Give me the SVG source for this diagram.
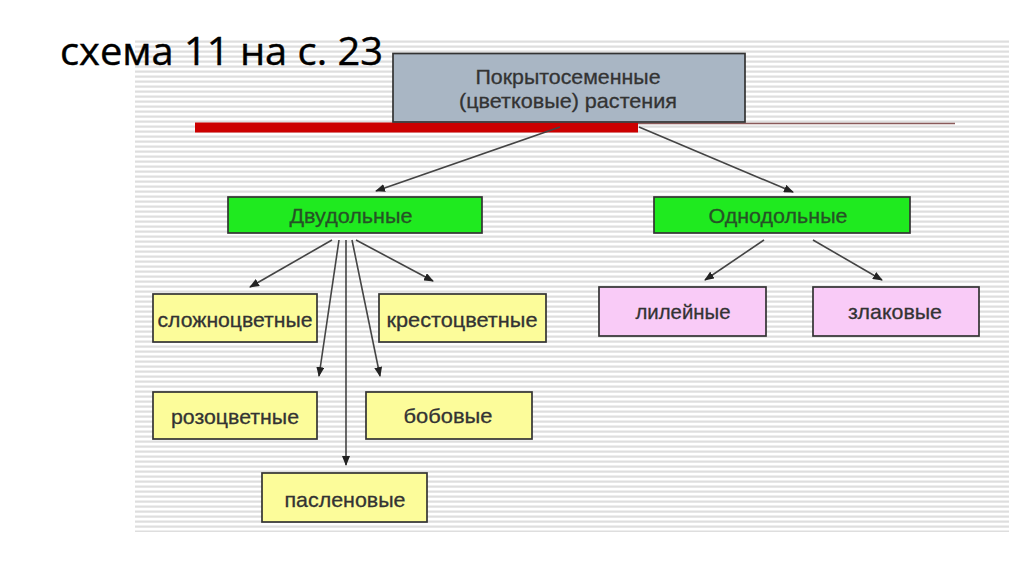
<svg xmlns="http://www.w3.org/2000/svg" width="1024" height="574" viewBox="0 0 1024 574">
<defs>
<pattern id="stripes" x="0" y="38" width="10" height="5" patternUnits="userSpaceOnUse">
<rect x="0" y="0" width="10" height="5" fill="#ffffff"/>
<rect x="0" y="2.5" width="10" height="2.2" fill="#dedede"/>
</pattern>
<marker id="arr" markerWidth="10" markerHeight="8" refX="9" refY="4" orient="auto" markerUnits="userSpaceOnUse">
<path d="M0,0 L10,4 L0,8 Z" fill="#222"/>
</marker>
</defs>
<style>
.box{stroke:#333;stroke-width:1.7}
.gray{fill:#a9b6c4}
.green{fill:#1fea1f}
.yellow{fill:#fcfc9a}
.pink{fill:#f9cbf7}
.t{font-family:"Liberation Sans",Arial,sans-serif;font-size:21px;fill:#333;stroke:#333;stroke-width:0.3;text-anchor:middle}
.tg{fill:#265226;stroke:#265226}
.conn{stroke:#444;stroke-width:1.6;fill:none;marker-end:url(#arr)}
</style>
<rect x="0" y="0" width="1024" height="574" fill="#ffffff"/>
<rect x="135" y="38" width="874" height="494" fill="url(#stripes)"/>
<text x="60" y="65" font-family="'Open Sans','Noto Sans',sans-serif" font-size="39" fill="#000" stroke="#000" stroke-width="0.4" textLength="323" lengthAdjust="spacingAndGlyphs">схема 11 на с. 23</text>

<g id="bar">
<line x1="630" y1="123.5" x2="955" y2="123.5" stroke="#8a5a5a" stroke-width="1.6"/>
<rect x="195" y="122.5" width="443" height="10" fill="#cc0000"/>
</g>

<g id="root">
<rect class="box gray" x="393" y="53.5" width="352" height="68.5"/>
<text class="t" x="568" y="84" textLength="185" lengthAdjust="spacingAndGlyphs">Покрытосеменные</text>
<text class="t" x="568" y="108" textLength="218" lengthAdjust="spacingAndGlyphs">(цветковые) растения</text>
</g>

<g id="connectors">
<line class="conn" x1="560" y1="127" x2="376" y2="191"/>
<line class="conn" x1="639" y1="127" x2="793" y2="192"/>
<line class="conn" x1="332" y1="240" x2="250" y2="287"/>
<line class="conn" x1="339" y1="240" x2="319" y2="376"/>
<line class="conn" x1="346" y1="240" x2="346" y2="465"/>
<line class="conn" x1="352" y1="240" x2="380" y2="376"/>
<line class="conn" x1="356" y1="240" x2="433" y2="281"/>
<line class="conn" x1="764" y1="240" x2="705" y2="280"/>
<line class="conn" x1="813" y1="240" x2="882" y2="280"/>
</g>

<g id="dicots">
<rect class="box green" x="228" y="197" width="254" height="36"/>
<text class="t tg" x="351" y="223" textLength="123" lengthAdjust="spacingAndGlyphs">Двудольные</text>
</g>
<g id="monocots">
<rect class="box green" x="654" y="197" width="256" height="36"/>
<text class="t tg" x="778" y="223" textLength="139" lengthAdjust="spacingAndGlyphs">Однодольные</text>
</g>

<g id="asteraceae">
<rect class="box yellow" x="153" y="294" width="164" height="48"/>
<text class="t" x="235" y="327" textLength="155" lengthAdjust="spacingAndGlyphs">сложноцветные</text>
</g>
<g id="brassicaceae">
<rect class="box yellow" x="379" y="294" width="167" height="48"/>
<text class="t" x="462" y="327" textLength="151" lengthAdjust="spacingAndGlyphs">крестоцветные</text>
</g>
<g id="rosaceae">
<rect class="box yellow" x="153" y="392" width="164" height="47"/>
<text class="t" x="235" y="424" textLength="128" lengthAdjust="spacingAndGlyphs">розоцветные</text>
</g>
<g id="fabaceae">
<rect class="box yellow" x="366" y="392" width="166" height="47"/>
<text class="t" x="448" y="423" textLength="89" lengthAdjust="spacingAndGlyphs">бобовые</text>
</g>
<g id="solanaceae">
<rect class="box yellow" x="262" y="473" width="165" height="49"/>
<text class="t" x="345" y="507" textLength="121" lengthAdjust="spacingAndGlyphs">пасленовые</text>
</g>

<g id="liliaceae">
<rect class="box pink" x="599" y="287" width="167" height="49"/>
<text class="t" x="683" y="319" textLength="95" lengthAdjust="spacingAndGlyphs">лилейные</text>
</g>
<g id="poaceae">
<rect class="box pink" x="813" y="287" width="166" height="49"/>
<text class="t" x="895" y="319" textLength="94" lengthAdjust="spacingAndGlyphs">злаковые</text>
</g>
</svg>
